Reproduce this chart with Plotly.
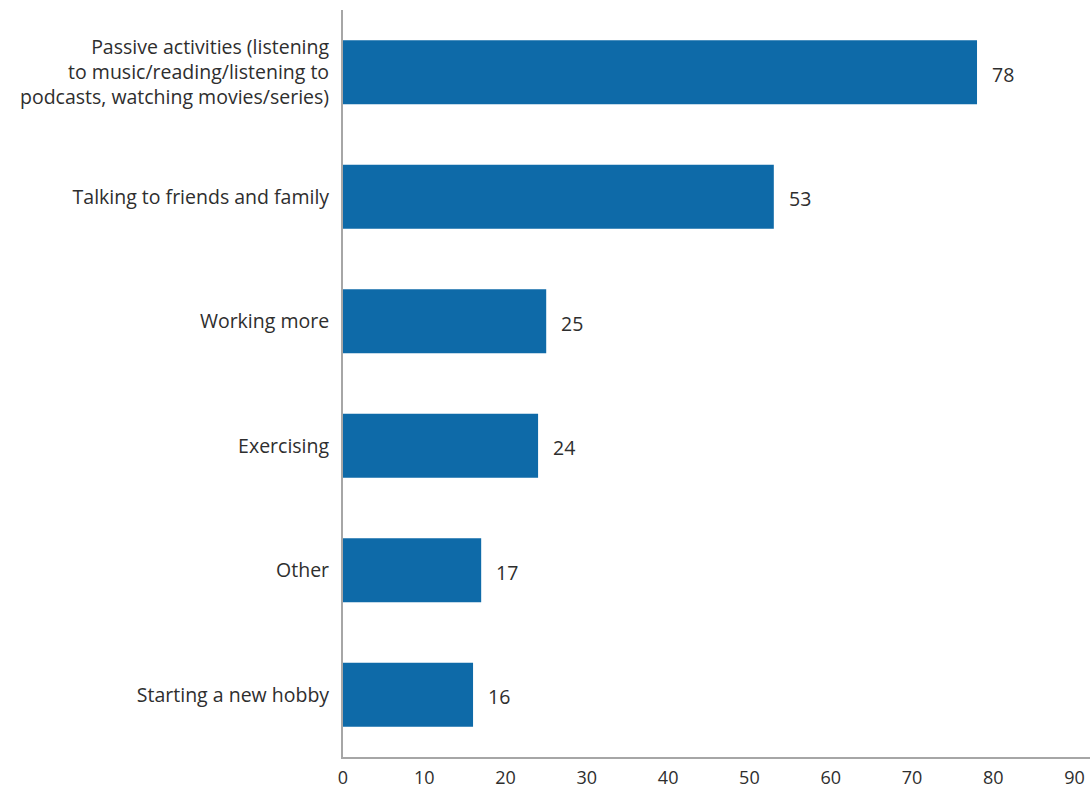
import plotly.graph_objects as go

categories = [
    "Passive activities (listening<br>to music/reading/listening to<br>podcasts, watching movies/series)",
    "Talking to friends and family",
    "Working more",
    "Exercising",
    "Other",
    "Starting a new hobby",
]
values = [78, 53, 25, 24, 17, 16]
x_ticks = [0, 10, 20, 30, 40, 50, 60, 70, 80, 90]

bar_color = "#0e6aa8"
text_color = "#2e2e2e"
font_family = "'Open Sans', sans-serif"
font_size = 19.5

fig = go.Figure(
    go.Bar(
        x=values,
        y=categories,
        orientation="h",
        marker=dict(color=bar_color, line=dict(width=0)),
        width=0.515,
        hoverinfo="x+y",
    )
)

# value labels just past the end of each bar
for cat, val in zip(categories, values):
    fig.add_annotation(
        x=val, y=cat, text=str(val), showarrow=False,
        xanchor="left", xshift=13, yshift=-2,
        font=dict(size=font_size, color=text_color, family=font_family),
    )

fig.update_layout(
    width=1090, height=790,
    margin=dict(l=343, r=0, t=10, b=33),
    plot_bgcolor="white", paper_bgcolor="white",
    showlegend=False,
    font=dict(family=font_family, size=font_size, color=text_color),
    bargap=0.485,
)
fig.update_xaxes(
    range=[0, 91.9], tickvals=x_ticks, showgrid=False, zeroline=False,
    showline=True, linecolor="#a6a6a6", linewidth=2, ticks="",
    tickfont=dict(size=18, color=text_color), ticklabelstandoff=3,
    automargin=False,
)
fig.update_yaxes(
    categoryorder="array", categoryarray=categories[::-1],
    range=[-0.5, 5.5],
    showgrid=False, zeroline=False, showline=True,
    linecolor="#a6a6a6", linewidth=2, ticks="",
    tickfont=dict(size=font_size, color=text_color), ticklabelstandoff=8,
    automargin=False,
)

fig.write_html("out.html")
